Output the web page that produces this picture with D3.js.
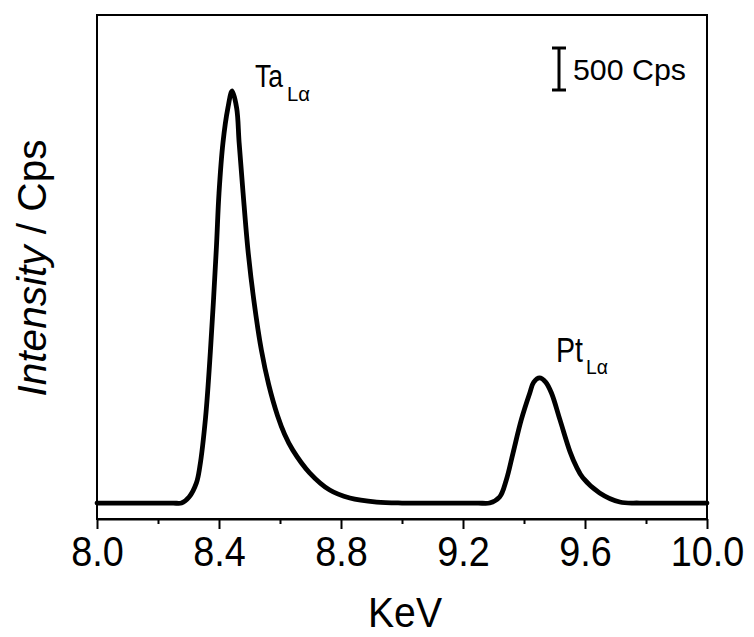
<!DOCTYPE html>
<html>
<head>
<meta charset="utf-8">
<script src="https://cdn.jsdelivr.net/npm/d3@7"></script>
<style>
  body { margin: 0; background: #fff; }
  text { font-family: "Liberation Sans", Arial, sans-serif; fill: #000; }
</style>
</head>
<body>
<svg id="chart"></svg>
<script>
// spectrum (KeV, Cps)
const energy = [
  8.00, 8.10, 8.20, 8.25, 8.277, 8.302, 8.326, 8.337, 8.356, 8.372, 8.391, 8.400,
  8.413, 8.429, 8.443, 8.458, 8.466, 8.479, 8.495, 8.514, 8.539, 8.563, 8.592,
  8.615, 8.642, 8.697, 8.763, 8.829, 8.917, 9.00, 9.10, 9.20, 9.25, 9.287, 9.320,
  9.342, 9.364, 9.391, 9.419, 9.432, 9.451, 9.471, 9.490, 9.518, 9.551, 9.572,
  9.593, 9.648, 9.714, 9.779, 9.90, 10.0
];
const intensity = [
  190, 190, 190, 190, 190, 262, 430, 620, 1210, 2010, 3200, 3880,
  4480, 4890, 5095, 4890, 4480, 3880, 3200, 2610, 2010, 1600, 1230,
  1010, 820, 550, 345, 250, 202, 190, 190, 190, 190, 190, 262,
  465, 785, 1180, 1500, 1630, 1680, 1630, 1500, 1180, 800, 620,
  490, 310, 202, 190, 190, 190
];

const majorTicks = [8.0, 8.4, 8.8, 9.2, 9.6, 10.0];
const minorTicks = [8.2, 8.6, 9.0, 9.4, 9.8];
const xDomain = [8.0, 10.0];
const yDomain = [0, 6000];
const scaleBarCps = 500;

function renderChart() {
  const width = 754;
  const height = 637;
  const svg = d3.select("#chart")
    .attr("width", width)
    .attr("height", height);

  const left = 97, right = 707, top = 15, bottom = 519;

  const x = d3.scaleLinear().domain(xDomain).range([left, right]);
  const y = d3.scaleLinear().domain(yDomain).range([bottom, top]);

  // cadre
  svg.append("rect")
    .attr("x", left)
    .attr("y", top)
    .attr("width", right - left)
    .attr("height", bottom - top)
    .attr("fill", "none")
    .attr("stroke", "#000")
    .attr("stroke-width", 2);

  // axe du bas
  const xAxis = svg.append("g")
    .attr("transform", `translate(0,${bottom})`)
    .call(d3.axisBottom(x)
      .tickValues(majorTicks)
      .tickSize(10)
      .tickSizeOuter(0)
      .tickFormat(d3.format(".1f")));

  xAxis.select(".domain").attr("stroke-width", 2);
  xAxis.selectAll(".tick line").attr("stroke-width", 2);
  xAxis.selectAll(".tick text")
    .attr("y", 47)
    .attr("dy", null)
    .attr("font-size", 42)
    .attr("fill", "#000")
    .attr("transform", "scale(0.9,1)")
    .style("font-family", "'Liberation Sans', Arial, sans-serif");

  const xMinor = svg.append("g")
    .attr("transform", `translate(0,${bottom})`)
    .call(d3.axisBottom(x)
      .tickValues(minorTicks)
      .tickSize(5)
      .tickSizeOuter(0)
      .tickFormat(""));
  xMinor.select(".domain").remove();
  xMinor.selectAll(".tick line").attr("stroke-width", 2);

  // courbe
  const line = d3.line()
    .x((d, i) => x(energy[i]))
    .y(d => y(d))
    .curve(d3.curveCatmullRom.alpha(0.5));

  svg.append("path")
    .datum(intensity)
    .attr("fill", "none")
    .attr("stroke", "#000")
    .attr("stroke-width", 4.8)
    .attr("stroke-linejoin", "round")
    .attr("stroke-linecap", "round")
    .attr("d", line);

  // titres des axes
  svg.append("text")
    .attr("x", 405)
    .attr("y", 627)
    .attr("text-anchor", "middle")
    .attr("font-size", 42)
    .attr("textLength", 74)
    .attr("lengthAdjust", "spacingAndGlyphs")
    .text("KeV");

  const yLabel = svg.append("text")
    .attr("transform", "translate(46,268) rotate(-90)")
    .attr("text-anchor", "middle")
    .attr("font-size", 41)
    .attr("textLength", 257)
    .attr("lengthAdjust", "spacingAndGlyphs");
  yLabel.append("tspan").attr("font-style", "italic").text("Intensity");
  yLabel.append("tspan").text(" / Cps");

  // étiquettes des pics
  function peakLabel(x0, base, main, mainW, subX, subBase, subW, size, subSize) {
    svg.append("text")
      .attr("x", x0)
      .attr("y", base)
      .attr("font-size", size)
      .attr("textLength", mainW)
      .attr("lengthAdjust", "spacingAndGlyphs")
      .text(main);
    svg.append("text")
      .attr("x", subX)
      .attr("y", subBase)
      .attr("font-size", subSize)
      .attr("textLength", subW)
      .attr("lengthAdjust", "spacingAndGlyphs")
      .text("Lα");
  }
  peakLabel(255, 87, "Ta", 28, 287, 100.5, 23, 31, 21);
  peakLabel(556, 361.5, "Pt", 27, 586, 374, 22, 35, 20);

  // barre d'échelle 500 Cps
  const barX = 559;
  const barTop = 48;
  const barBottom = barTop + (y(0) - y(scaleBarCps));
  const bar = svg.append("g").attr("stroke", "#000").attr("stroke-width", 3);
  bar.append("line").attr("x1", barX).attr("x2", barX).attr("y1", barTop).attr("y2", barBottom);
  bar.append("line").attr("x1", barX - 7).attr("x2", barX + 7).attr("y1", barTop).attr("y2", barTop);
  bar.append("line").attr("x1", barX - 7).attr("x2", barX + 7).attr("y1", barBottom).attr("y2", barBottom);

  svg.append("text")
    .attr("x", 573)
    .attr("y", 80)
    .attr("font-size", 30)
    .attr("textLength", 113)
    .attr("lengthAdjust", "spacingAndGlyphs")
    .text("500 Cps");
}

renderChart();
</script>
</body>
</html>
